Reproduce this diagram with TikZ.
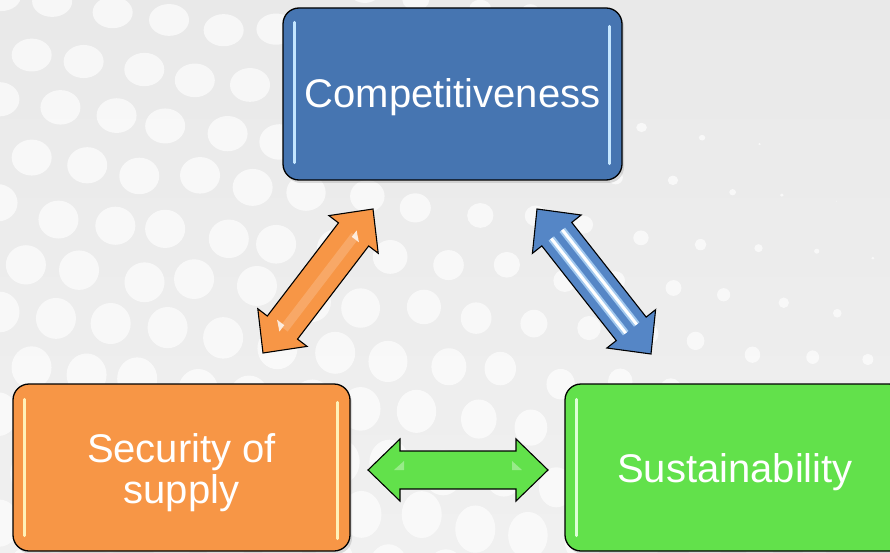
\documentclass[tikz,border=0pt]{standalone}
\usepackage{fontspec}
\setmainfont{Liberation Sans}
\usetikzlibrary{calc,shadows}

\definecolor{bgT}{HTML}{E9E9E9}
\definecolor{bgB}{HTML}{F0F0F0}
\definecolor{cblue}{HTML}{4675B1}
\definecolor{corange}{HTML}{F79646}
\definecolor{cgreen}{HTML}{62E14B}
\definecolor{hlblue}{HTML}{C4E6FF}
\definecolor{hlorange}{HTML}{FFF1B8}
\definecolor{hlgreen}{HTML}{DDFFD6}
\definecolor{ablue}{HTML}{5586C6}

% double-headed block arrow between two named tip coordinates
\newcommand\dblblockarrow[3]{%
  \path ($(#1)!32pt!(#2)$) coordinate (ha) ($(#2)!32pt!(#1)$) coordinate (hb);
  \filldraw[#3] (#1) -- ($(ha)!31pt!90:(#1)$) -- ($(ha)!19pt!90:(#1)$)
    -- ($(hb)!19pt!-90:(#2)$) -- ($(hb)!31pt!-90:(#2)$) -- (#2)
    -- ($(hb)!31pt!90:(#2)$) -- ($(hb)!19pt!90:(#2)$)
    -- ($(ha)!19pt!-90:(#1)$) -- ($(ha)!31pt!-90:(#1)$) -- cycle;}

\begin{document}
\begin{tikzpicture}[x=1pt,y=-1pt,
  box/.style={draw=black, line width=1.3pt, rounded corners=16pt,
    drop shadow={opacity=0.25, shadow xshift=2pt, shadow yshift=-3pt}},
  lbl/.style={text=white, font=\fontsize{40}{41}\selectfont, align=center, inner sep=0pt},
  shine/.style={line width=3pt, line cap=round, draw=#1},
  arrowbody/.style={draw=black, line width=1.1pt, line join=miter, fill=#1}]
\useasboundingbox (0,0) rectangle (890,553);
\clip (0,0) rectangle (890,553);

% dotted grey backdrop
\shade[top color=bgT, bottom color=bgB] (0,0) rectangle (890,553);
\pgfmathsetseed{4}
\foreach \i in {-1,...,17}{
  \foreach \j in {-3,...,11}{
    \pgfmathsetmacro\cx{\i*56+mod(\j+4,2)*28+rand*5}
    \pgfmathsetmacro\cy{\j*52+0.12*\cx+rand*5}
    \pgfmathsetmacro\dd{veclen(\cx-1050,\cy+50)}
    \pgfmathsetmacro\D{min(40,max(0,(\dd-320)*0.085))}
    \pgfmathsetmacro\D{and(\cx>600,\cy<118) ? 0 : \D}
    \pgfmathsetmacro\rx{0.5*\D}
    \pgfmathsetmacro\ry{\rx*(0.78+0.42*\cy/553)}
    \fill[white,opacity=0.65] (\cx,\cy) ellipse [x radius=\rx pt, y radius=\ry pt];
  }}

% the three boxes
\node[box, fill=cblue, minimum width=339pt, minimum height=172pt] (comp) at (452.5,94) {};
\node[box, fill=corange, minimum width=337pt, minimum height=167pt] (sec) at (181.5,467.5) {};
\node[box, fill=cgreen, minimum width=340pt, minimum height=167pt] (sus) at (735,467.5) {};

% glossy edge highlights
\draw[shine=hlblue] ($(comp.north west)+(12,15)$) -- ($(comp.south west)+(12,-18)$);
\draw[shine=hlblue] ($(comp.north east)+(-13,19)$) -- ($(comp.south east)+(-13,-17)$);
\draw[shine=hlorange] ($(sec.north west)+(12,16)$) -- ($(sec.south west)+(12,-16)$);
\draw[shine=hlorange] ($(sec.north east)+(-13,19)$) -- ($(sec.south east)+(-13,-13)$);
\draw[shine=hlgreen] ($(sus.north west)+(12,16)$) -- ($(sus.south west)+(12,-16)$);

% box captions
\node[lbl] (compT) at ($(comp.center)+(0,3)$) {Competitiveness};
\node[lbl] (secT) at ($(sec.center)+(0,5)$) {Security of\\supply};
\node[lbl] (susT) at ($(sus.center)+(0,5)$) {Sustainability};

% arrow tips
\coordinate (oA) at (263,353); \coordinate (oB) at (373,209);
\coordinate (bA) at (537,209); \coordinate (bB) at (651,354);
\coordinate (gA) at (368,470); \coordinate (gB) at (548,470);

% orange arrow
\dblblockarrow{oA}{oB}{arrowbody=corange}
\draw[line width=9pt, draw=white, opacity=0.18] ($(ha)!2pt!90:(oA)$) -- ($(hb)!2pt!-90:(oB)$);
\fill[white, opacity=0.8] ($(hb)!5pt!(oB)$) -- ($(hb)!-3pt!(oB)$) -- ($($(hb)!-3pt!(oB)$)!9pt!-90:(hb)$) -- cycle;
\fill[white, opacity=0.8] ($(ha)!5pt!(oA)$) -- ($(ha)!-3pt!(oA)$) -- ($($(ha)!-3pt!(oA)$)!9pt!-90:(ha)$) -- cycle;

% blue arrow
\dblblockarrow{bA}{bB}{arrowbody=ablue}
\draw[line width=7pt, draw=hlblue!70!ablue] ($(ha)!7pt!90:(bA)$) -- ($(hb)!7pt!-90:(bB)$);
\draw[line width=7pt, draw=hlblue!70!ablue] ($(ha)!7pt!-90:(bA)$) -- ($(hb)!7pt!90:(bB)$);
\draw[line width=3pt, draw=white] ($(ha)!7pt!90:(bA)$) -- ($(hb)!7pt!-90:(bB)$);
\draw[line width=3pt, draw=white] ($(ha)!7pt!-90:(bA)$) -- ($(hb)!7pt!90:(bB)$);

% green arrow
\dblblockarrow{gA}{gB}{arrowbody=cgreen}
\fill[white, opacity=0.35] ($(hb)!6pt!(gB)$) -- ($(hb)!-4pt!(gB)$) -- ($($(hb)!-4pt!(gB)$)!9pt!90:(hb)$) -- cycle;
\fill[white, opacity=0.35] ($(ha)!6pt!(gA)$) -- ($(ha)!-4pt!(gA)$) -- ($($(ha)!-4pt!(gA)$)!9pt!-90:(ha)$) -- cycle;
\end{tikzpicture}
\end{document}
